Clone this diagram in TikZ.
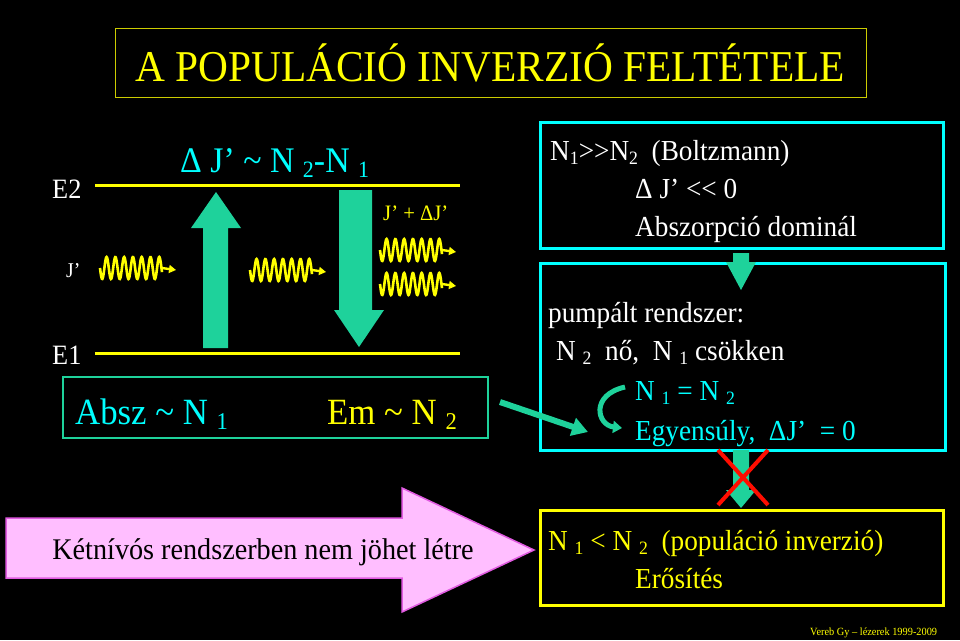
\documentclass[tikz,border=0pt]{standalone}
\usepackage{fontspec}
\setmainfont{Liberation Serif}[FakeStretch=0.94]
\usetikzlibrary{positioning,arrows.meta}
\definecolor{jade}{RGB}{30,210,155}
\definecolor{cyn}{RGB}{0,255,255}
\definecolor{yel}{RGB}{255,255,0}
\definecolor{pinkfill}{RGB}{255,190,255}
\definecolor{pinkline}{RGB}{225,90,225}
\newcommand{\fs}[1]{\fontsize{#1}{#1}\selectfont}
\newcommand{\sub}[1]{\raisebox{-0.35ex}{\scalebox{0.65}{#1}}}
% wavy photon
\newcommand{\photon}[3]{%
  \draw[yel,line width=2.6pt] plot[domain=0:62,samples=160] ({#1+\x},{#2+11*sin(\x*41)});
  \draw[yel,line width=2.4pt,-{Triangle[length=7pt,width=8pt]}] (#1+62,#2) -- (#1+76,#2+2) coordinate (#3);}
\begin{document}
\begin{tikzpicture}[x=1pt,y=-1pt,
    txt/.style={inner sep=0pt,anchor=base west},
    lvl/.style={yel,line width=3pt},
    fat/.style={fill=jade,draw=none},
    box/.style={draw=cyn,line width=3pt},
  ]
  \fill[black] (0,0) rectangle (960,640);
  \useasboundingbox (0,0) rectangle (960,640);
  % title
  \draw[yel!80!black,line width=1pt] (115,28) rectangle (866,97);
  \node[yel,font=\fs{44}] (title) at (490,63) {A POPULÁCIÓ INVERZIÓ FELTÉTELE};
  % levels
  \node[cyn,txt,font=\fs{36}] (dj) at (180,172) {Δ J’ \textasciitilde{} N \sub{2}-N \sub{1}};
  \node[white,txt,font=\fs{28}] (e2) at (52,198) {E2};
  \node[white,txt,font=\fs{28}] (e1) at (52,364) {E1};
  \node[white,txt,font=\fs{21}] (jp) at (66,277) {J’};
  \coordinate (e2a) at (95,185); \coordinate (e2b) at (460,185);
  \coordinate (e1a) at (95,353); \coordinate (e1b) at (460,353);
  \draw[lvl] (e2a) -- (e2b);
  \draw[lvl] (e1a) -- (e1b);
  \fill[fat] (203,348) -- (203,228) -- (191,228) -- (216,192) -- (241,228) -- (228,228) -- (228,348) -- cycle;
  \fill[fat] (339,190) -- (339,310) -- (334,310) -- (359,347) -- (384,310) -- (372,310) -- (372,190) -- cycle;
  \photon{100}{268}{w1}
  \photon{250}{270}{w2}
  \photon{380}{250}{w3}
  \photon{380}{284}{w4}
  \node[yel,txt,font=\fs{22}] (jdj) at (383,220) {J’ + ΔJ’};
  \draw[jade,line width=1.5pt] (63,377) rectangle (488,438);
  \node[cyn,txt,font=\fs{37}] (absz) at (75,424) {Absz \textasciitilde{} N \sub{1}};
  \node[yel,txt,font=\fs{37}] (em) at (327,424) {Em \textasciitilde{} N \sub{2}};
  % right boxes
  \draw[box] (540,122) rectangle (943,248);
  \node[white,txt,font=\fs{29}] (b1) at (550,160) {N\sub{1}{>}{>}N\sub{2}\ \ (Boltzmann)};
  \node[white,txt,font=\fs{29}] (b2) at (635,198) {Δ J’ {<}{<} 0};
  \node[white,txt,font=\fs{29}] (b3) at (635,236) {Abszorpció dominál};
  \draw[box] (540,263) rectangle (945,450);
  \node[white,txt,font=\fs{29}] (p1) at (548,322) {pumpált rendszer:};
  \node[white,txt,font=\fs{29}] (p2) at (556,360) {N \sub{2}\ \ nő,\ \ N \sub{1}\ csökken};
  \node[cyn,txt,font=\fs{29}] (p3) at (635,400) {N \sub{1} = N \sub{2}};
  \node[cyn,txt,font=\fs{29}] (p4) at (635,440) {Egyensúly,\ \ ΔJ’\ \ = 0};
  \fill[fat] (733,253) -- (733,262) -- (726,262) -- (741,290) -- (756,262) -- (749,262) -- (749,253) -- cycle;
  \draw[jade,line width=6pt,-{Triangle[length=16pt,width=18pt]}] (500,402) -- (588,432);
  \draw[jade,line width=5pt,-{Triangle[length=9pt,width=12pt]}] (625,387) .. controls (590,395) and (597,425) .. (622,428);
  \fill[fat] (733,450) -- (733,490) -- (726,490) -- (741,508) -- (756,490) -- (749,490) -- (749,450) -- cycle;
  \draw[red!90!orange,line width=4pt] (718,450) -- (768,505) (768,450) -- (718,505);
  % bottom
  \fill[pinkfill,draw=pinkline,line width=1.5pt] (6,518) -- (402,518) -- (402,488) -- (534,550) -- (402,612) -- (402,578) -- (6,578) -- cycle;
  \node[black,font=\fs{30}] (kt) at (263,552) {Kétnívós rendszerben nem jöhet létre};
  \draw[yel,line width=3pt] (540,510) rectangle (943,605);
  \node[yel,txt,font=\fs{29}] (y1) at (548,550) {N \sub{1} {<} N \sub{2}\ \ (populáció inverzió)};
  \node[yel,txt,font=\fs{29}] (y2) at (635,588) {Erősítés};
  \node[yel,txt,font=\fs{11}] (ft) at (810,635) {Vereb Gy – lézerek 1999-2009};
\end{tikzpicture}
\end{document}
